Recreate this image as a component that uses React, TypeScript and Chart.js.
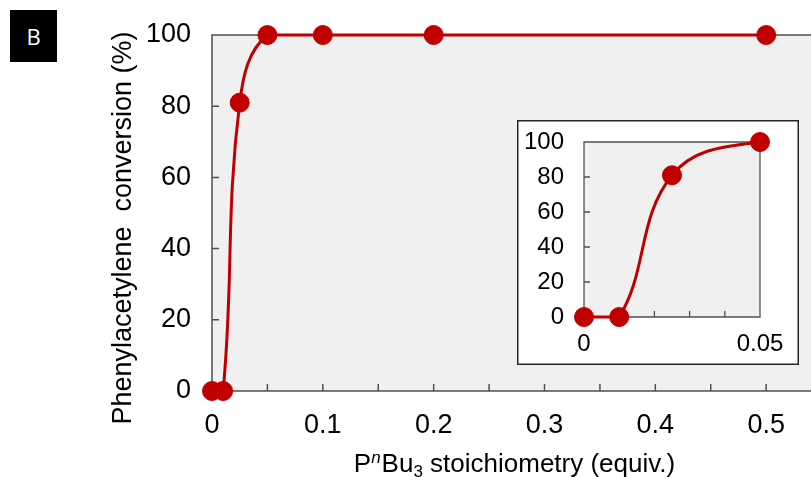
import React, { useEffect, useRef } from "react";
import { Chart, registerables } from "chart.js";

Chart.register(...registerables);

// ---- data ----
const stoichiometry = [0, 0.01, 0.025, 0.05, 0.1, 0.2, 0.5];
const conversion = [0, 0, 81, 100, 100, 100, 100];
const mainXMax = 0.6;
const insetXMax = 0.05;
const yMin = 0;
const yMax = 100;
const yStep = 20;
const mainXLabelStep = 0.1;
const mainXMinorStep = 0.05;
const insetXLabelStep = 0.05;
const insetXMinorStep = 0.01;
const yAxisTitle = "Phenylacetylene  conversion (%)";
const panelLabel = "B";
const xTitleParts = [
  { text: "P", kind: "normal" },
  { text: "n", kind: "sup" },
  { text: "Bu", kind: "normal" },
  { text: "3", kind: "sub" },
  { text: " stoichiometry (equiv.)", kind: "normal" },
];

// ---- style ----
const RED = "#c00000";
const GRAY = "#f0f0f0";
const AXIS = "#505050";
const FONT = "'Liberation Sans', Arial, sans-serif";

function fmt(v: number) {
  const r = Math.round(v * 1000) / 1000;
  return r === 0 ? "0" : String(r);
}

function decor(opts: { box: boolean; fullBorder: boolean; xMinorStep: number; tickLen: number; axisWidth: number }) {
  return {
    id: "decor",
    beforeDraw(chart: any) {
      const { ctx, chartArea: a, width, height } = chart;
      ctx.save();
      if (opts.box) {
        ctx.fillStyle = "#ffffff";
        ctx.fillRect(0, 0, width, height);
        ctx.strokeStyle = "#262626";
        ctx.lineWidth = 1.5;
        ctx.strokeRect(0.75, 0.75, width - 1.5, height - 1.5);
      }
      ctx.fillStyle = GRAY;
      ctx.fillRect(a.left, a.top, a.right - a.left, a.bottom - a.top);
      ctx.restore();
    },
    beforeDatasetsDraw(chart: any) {
      const { ctx, chartArea: a, scales } = chart;
      const xs = scales.x;
      const ys = scales.y;
      ctx.save();
      ctx.strokeStyle = AXIS;
      ctx.lineWidth = opts.axisWidth;
      ctx.beginPath();
      ctx.moveTo(a.right, a.top);
      ctx.lineTo(a.left, a.top);
      ctx.lineTo(a.left, a.bottom);
      ctx.lineTo(a.right, a.bottom);
      if (opts.fullBorder) ctx.lineTo(a.right, a.top);
      for (let v = yMin + yStep; v < yMax; v += yStep) {
        const p = ys.getPixelForValue(v);
        ctx.moveTo(a.left, p);
        ctx.lineTo(a.left + opts.tickLen, p);
      }
      const n = Math.round((xs.max - xs.min) / opts.xMinorStep);
      for (let i = 1; i < n; i++) {
        const p = xs.getPixelForValue(xs.min + i * opts.xMinorStep);
        ctx.moveTo(p, a.bottom);
        ctx.lineTo(p, a.bottom - opts.tickLen);
      }
      ctx.stroke();
      ctx.restore();
    },
  };
}

const titlesPlugin = {
  id: "titles",
  afterDraw(chart: any) {
    const { ctx } = chart;
    ctx.save();
    ctx.fillStyle = "#000";
    // y title
    ctx.font = `27px ${FONT}`;
    ctx.textAlign = "center";
    ctx.textBaseline = "middle";
    ctx.translate(124, 228);
    ctx.rotate(-Math.PI / 2);
    ctx.fillText(yAxisTitle, 0, 0);
    ctx.setTransform(1, 0, 0, 1, 0, 0);
    // x title with super/subscripts
    const fontFor = (k: string) =>
      k === "normal" ? `26px ${FONT}` : k === "sup" ? `italic 17px ${FONT}` : `17px ${FONT}`;
    let total = 0;
    const widths = xTitleParts.map((p) => {
      ctx.font = fontFor(p.kind);
      const w = ctx.measureText(p.text).width;
      total += w;
      return w;
    });
    let x = 514 - total / 2;
    const base = 472;
    ctx.textAlign = "left";
    ctx.textBaseline = "alphabetic";
    xTitleParts.forEach((p, i) => {
      ctx.font = fontFor(p.kind);
      const dy = p.kind === "sup" ? -9 : p.kind === "sub" ? 5 : 0;
      ctx.fillText(p.text, x, base + dy);
      x += widths[i] + (p.kind === "sup" ? 1 : 0);
    });
    ctx.restore();
  },
};

function makeDataset() {
  return {
    data: stoichiometry.map((x, i) => ({ x, y: conversion[i] })),
    borderColor: RED,
    backgroundColor: RED,
    borderWidth: 3,
    pointRadius: 9.5,
    pointBorderWidth: 1,
    pointBackgroundColor: RED,
    pointBorderColor: RED,
    tension: 0.4,
    clip: { left: false, top: false, right: 10, bottom: false } as any,
  };
}

const noPadX = (h: number) => (s: any) => {
  s.height = h;
  s.paddingLeft = 0;
  s.paddingRight = 0;
  s.paddingTop = 0;
  s.paddingBottom = 0;
};
const noPadY = (w: number) => (s: any) => {
  s.width = w;
  s.paddingLeft = 0;
  s.paddingRight = 0;
  s.paddingTop = 0;
  s.paddingBottom = 0;
};

function MainChart() {
  const ref = useRef<HTMLCanvasElement>(null);
  useEffect(() => {
    const chart = new Chart(ref.current!, {
      type: "line",
      data: { datasets: [makeDataset()] },
      options: {
        responsive: false,
        animation: false,
        events: [],
        layout: { padding: { left: 0, top: 35, right: 13, bottom: 0 }, autoPadding: false },
        plugins: { legend: { display: false }, tooltip: { enabled: false } },
        scales: {
          x: {
            type: "linear",
            min: 0,
            max: mainXMax,
            grid: { display: false, drawTicks: false },
            border: { display: false },
            ticks: {
              stepSize: mainXLabelStep,
              padding: 18,
              color: "#000",
              font: { family: FONT, size: 27 },
              maxRotation: 0,
              autoSkip: false,
              callback: (v: any) => fmt(Number(v)),
            },
            afterFit: noPadX(86),
          },
          y: {
            min: yMin,
            max: yMax,
            grid: { display: false, drawTicks: false },
            border: { display: false },
            ticks: {
              stepSize: yStep,
              padding: 21,
              color: "#000",
              font: { family: FONT, size: 27 },
            },
            afterFit: noPadY(212),
          },
        },
      },
      plugins: [
        decor({ box: false, fullBorder: false, xMinorStep: mainXMinorStep, tickLen: 7, axisWidth: 1.5 }),
        titlesPlugin,
      ],
    });
    return () => chart.destroy();
  }, []);
  return <canvas ref={ref} width={890} height={477} style={{ display: "block" }} />;
}

function InsetChart() {
  const ref = useRef<HTMLCanvasElement>(null);
  useEffect(() => {
    const chart = new Chart(ref.current!, {
      type: "line",
      data: { datasets: [makeDataset()] },
      options: {
        responsive: false,
        animation: false,
        events: [],
        layout: { padding: { left: 0, top: 22, right: 39, bottom: 0 }, autoPadding: false },
        plugins: { legend: { display: false }, tooltip: { enabled: false } },
        scales: {
          x: {
            type: "linear",
            min: 0,
            max: insetXMax,
            grid: { display: false, drawTicks: false },
            border: { display: false },
            ticks: {
              stepSize: insetXLabelStep,
              padding: 13,
              color: "#000",
              font: { family: FONT, size: 24 },
              maxRotation: 0,
              autoSkip: false,
              callback: (v: any) => fmt(Number(v)),
            },
            afterFit: noPadX(48),
          },
          y: {
            min: yMin,
            max: yMax,
            grid: { display: false, drawTicks: false },
            border: { display: false },
            ticks: {
              stepSize: yStep,
              padding: 20,
              color: "#000",
              font: { family: FONT, size: 24 },
            },
            afterFit: noPadY(67),
          },
        },
      },
      plugins: [decor({ box: true, fullBorder: true, xMinorStep: insetXMinorStep, tickLen: 6, axisWidth: 1.3 })],
    });
    return () => chart.destroy();
  }, []);
  return <canvas ref={ref} width={282} height={245} style={{ display: "block" }} />;
}

export default function App() {
  return (
    <div
      style={{
        position: "fixed",
        left: 0,
        top: 0,
        width: 811,
        height: 477,
        overflow: "hidden",
        background: "#fff",
      }}
    >
      <div style={{ position: "absolute", left: 0, top: 0, width: 811, height: 477, overflow: "hidden" }}>
        <MainChart />
      </div>
      <div
        style={{
          position: "absolute",
          left: 10,
          top: 10,
          width: 47,
          height: 52,
          background: "#000",
          color: "#fff",
          fontFamily: "'Open Sans', 'Noto Sans', sans-serif",
          fontSize: 22,
          display: "flex",
          alignItems: "center",
          justifyContent: "center",
        }}
      >
        {panelLabel}
      </div>
      <div style={{ position: "absolute", left: 517, top: 120, width: 282, height: 245 }}>
        <InsetChart />
      </div>
    </div>
  );
}
